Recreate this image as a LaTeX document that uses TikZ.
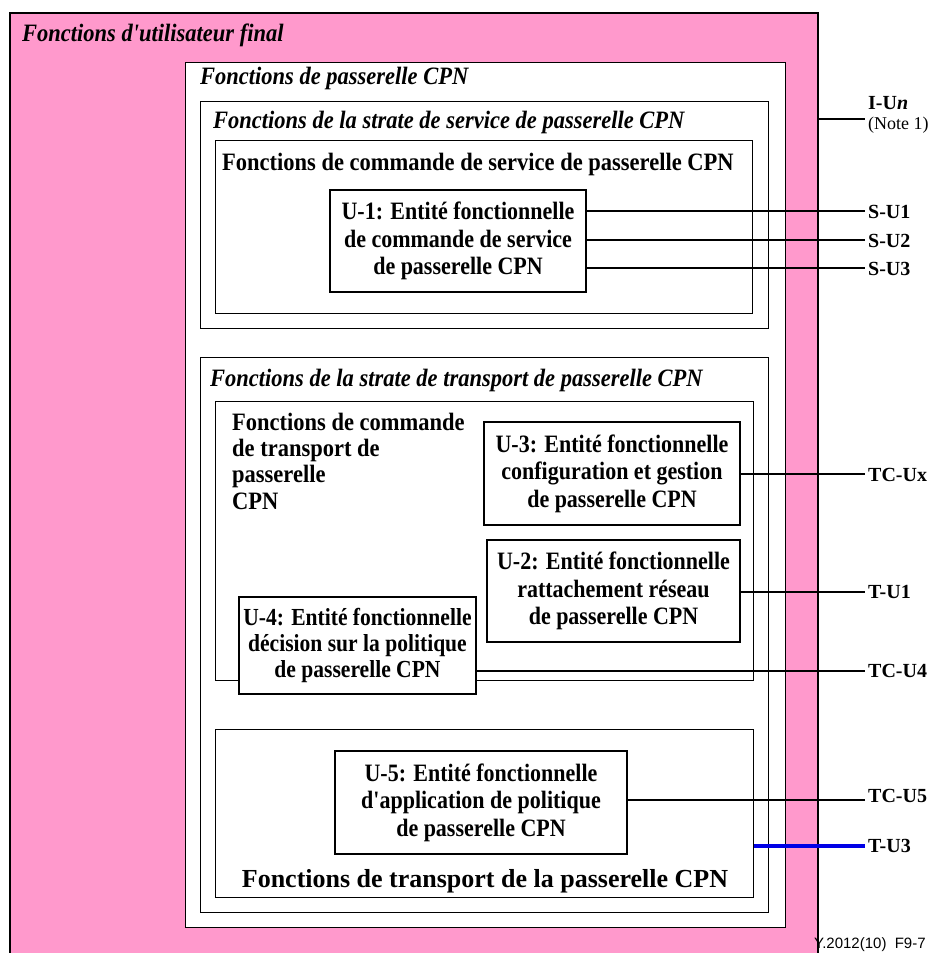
\documentclass[tikz,border=0pt]{standalone}
\usepackage{fontspec}
\setmainfont{Liberation Serif}
\newfontfamily\narrowserif[FakeStretch=0.9]{Liberation Serif}
\newfontfamily\entityserif[FakeStretch=0.88]{Liberation Serif}
\newfontfamily\footfont{Liberation Sans}
\definecolor{userpink}{RGB}{255,153,204}
\definecolor{tuline}{RGB}{0,0,230}
\begin{document}
\begin{tikzpicture}[x=1pt,y=-1pt,
  frame/.style={draw=black,line width=1.1pt,fill=white,anchor=north west,inner sep=0pt},
  entity/.style={draw=black,line width=1.1pt,fill=white,align=center,inner sep=0pt,
    font=\entityserif\fontsize{25}{27.5}\selectfont\bfseries},
  heading/.style={anchor=base west,inner sep=0pt,font=\narrowserif\fontsize{25}{27}\selectfont\bfseries\itshape},
  uheading/.style={anchor=base west,inner sep=0pt,align=left,font=\narrowserif\fontsize{25}{26.3}\selectfont\bfseries},
  iface/.style={anchor=west,inner sep=0pt,font=\fontsize{20}{22}\selectfont\bfseries},
  link/.style={draw=black,line width=1.1pt},
]
\useasboundingbox (0,0) rectangle (944,953);

% end-user area, open at the bottom
\fill[userpink] (10,13) rectangle (818,953);
\draw[line width=1.1pt] (10,953) -- (10,13) -- (818,13) -- (818,953);
\node[heading] (enduser) at (22,41) {Fonctions d'utilisateur final};

% gateway functions
\node[frame,minimum width=600pt,minimum height=865pt] (gw) at (185,62) {};
\node[heading] (gwt) at (200,84) {Fonctions de passerelle CPN};

% service stratum
\node[frame,minimum width=568pt,minimum height=227pt] (ss) at (200,101) {};
\node[heading] (sst) at (213,128) {Fonctions de la strate de service de passerelle CPN};
\node[frame,minimum width=537pt,minimum height=173pt] (sc) at (215,140) {};
\node[uheading] (sct) at (222,170) {Fonctions de commande de service de passerelle CPN};
\node[entity,minimum width=256pt,minimum height=102pt] (u1) at (458,241)
  {U-1: Entité fonctionnelle\\de commande de service\\de passerelle CPN};

% transport stratum
\node[frame,minimum width=568pt,minimum height=555pt] (ts) at (200,357) {};
\node[heading] (tst) at (210,386) {Fonctions de la strate de transport de passerelle CPN};
\node[frame,minimum width=538pt,minimum height=279pt] (tc) at (215,401) {};
\node[uheading] (tct) at (232,509) {Fonctions de commande\\de transport de\\passerelle\\CPN};
\node[entity,minimum width=256pt,minimum height=103pt] (u3) at (612,473.5)
  {U-3: Entité fonctionnelle\\configuration et gestion\\de passerelle CPN};
\node[entity,minimum width=253pt,minimum height=102pt] (u2) at (613.5,591)
  {U-2: Entité fonctionnelle\\rattachement réseau\\de passerelle CPN};
\node[entity,minimum width=237pt,minimum height=97pt,
  font=\entityserif\fontsize{24.5}{26}\selectfont\bfseries] (u4) at (357.5,645.5)
  {U-4: Entité fonctionnelle\\décision sur la politique\\de passerelle CPN};

% transport functions
\node[frame,minimum width=538pt,minimum height=168pt] (tf) at (215,729) {};
\node[entity,minimum width=292pt,minimum height=103pt] (u5) at (481,802.5)
  {U-5: Entité fonctionnelle\\d'application de politique\\de passerelle CPN};
\node[anchor=base,inner sep=0pt,font=\fontsize{26}{28}\selectfont\bfseries] (tft)
  at (485,887) {Fonctions de transport de la passerelle CPN};

% interface reference points
\coordinate (iun) at (865,119);
\coordinate (su1) at (865,211);
\coordinate (su2) at (865,240);
\coordinate (su3) at (865,268);
\coordinate (tcux) at (865,474);
\coordinate (tu1) at (865,592);
\coordinate (tcu4) at (865,671);
\coordinate (tcu5) at (865,800);
\coordinate (tu3) at (865,846);

\draw[link] (818,119) -- (iun);
\draw[link] (u1.east |- su1) -- (su1);
\draw[link] (u1.east |- su2) -- (su2);
\draw[link] (u1.east |- su3) -- (su3);
\draw[link] (u3.east |- tcux) -- (tcux);
\draw[link] (u2.east |- tu1) -- (tu1);
\draw[link] (u4.east |- tcu4) -- (tcu4);
\draw[link] (u5.east |- tcu5) -- (tcu5);
\draw[draw=tuline,line width=3.2pt] (tf.east |- tu3) -- (tu3);

\node[anchor=base west,inner sep=0pt,font=\fontsize{20}{22}\selectfont\bfseries] (liun)
  at (868,109) {I-U\textit{n}};
\node[anchor=base west,inner sep=0pt,font=\fontsize{18}{20}\selectfont] (lnote)
  at (868,129) {(Note 1)};
\node[iface] at (868,212) {S-U1};
\node[iface] at (868,241) {S-U2};
\node[iface] at (868,269) {S-U3};
\node[iface] at (868,475) {TC-Ux};
\node[iface] at (868,592) {T-U1};
\node[iface] at (868,671) {TC-U4};
\node[iface] at (868,796) {TC-U5};
\node[iface] at (868,846) {T-U3};

\node[anchor=base west,inner sep=0pt,font=\footfont\fontsize{15}{17}\selectfont] (fig)
  at (814,948) {Y.2012(10)\ \ F9-7};
\end{tikzpicture}
\end{document}
